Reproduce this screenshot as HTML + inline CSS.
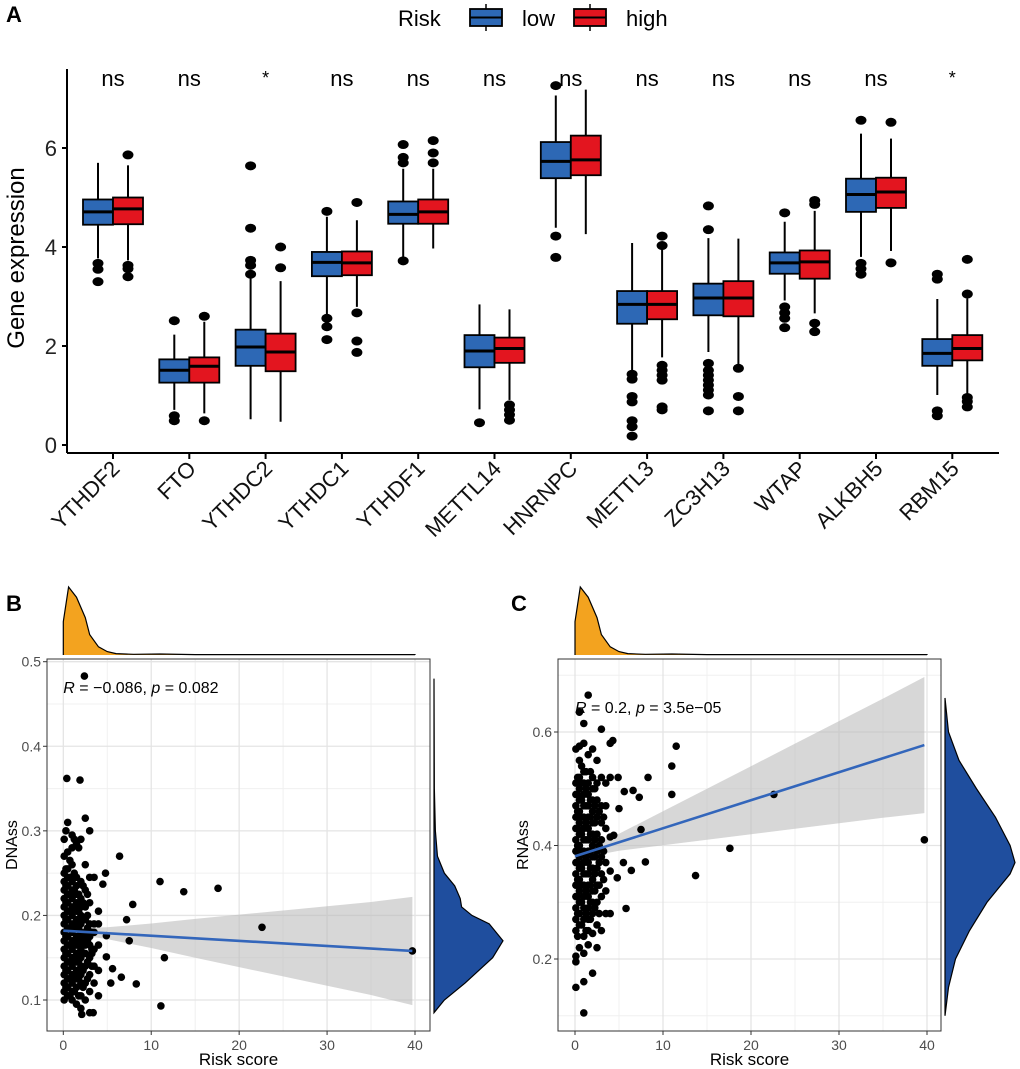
<!DOCTYPE html>
<html><head><meta charset="utf-8"><style>
body{margin:0;background:#fff}
svg{display:block;font-family:"Liberation Sans",sans-serif}
</style></head><body>
<svg id="fig" width="1020" height="1069" viewBox="0 0 1020 1069">
<text x="6" y="22" font-size="22" font-weight="bold">A</text>
<text x="6" y="611" font-size="22" font-weight="bold">B</text>
<text x="511" y="611" font-size="22" font-weight="bold">C</text>
<g id="gA"></g>
<g id="gB"></g>
<g id="gC"></g>
</svg>
<script>
const genes=["YTHDF2","FTO","YTHDC2","YTHDC1","YTHDF1","METTL14","HNRNPC","METTL3","ZC3H13","WTAP","ALKBH5","RBM15"];
const sig=["ns","ns","*","ns","ns","ns","ns","ns","ns","ns","ns","*"];
// [whiskerLow, q1, median, q3, whiskerHigh]
const lowStats=[[3.77,4.45,4.71,4.96,5.70],[0.71,1.26,1.51,1.73,2.23],[0.52,1.60,1.98,2.33,3.40],[2.62,3.41,3.69,3.90,4.61],[3.80,4.47,4.66,4.92,5.58],[0.72,1.57,1.90,2.22,2.84],[4.39,5.39,5.73,6.12,7.06],[1.48,2.45,2.84,3.11,4.08],[1.88,2.62,2.97,3.26,4.18],[2.92,3.46,3.68,3.89,4.51],[3.80,4.71,5.06,5.38,6.29],[1.01,1.60,1.85,2.14,2.95]];
const highStats=[[3.73,4.46,4.77,5.00,5.65],[0.64,1.26,1.59,1.77,2.49],[0.47,1.49,1.88,2.25,3.31],[2.79,3.43,3.68,3.91,4.54],[3.97,4.47,4.71,4.96,5.58],[0.91,1.66,1.95,2.17,2.74],[4.26,5.45,5.76,6.25,7.18],[1.77,2.54,2.84,3.11,4.00],[1.61,2.60,2.97,3.31,4.17],[2.66,3.36,3.70,3.93,4.73],[3.92,4.79,5.11,5.40,6.19],[0.98,1.71,1.95,2.22,2.96]];
const lowOut=[[3.67,3.55,3.30],[2.51,0.59,0.49],[5.64,4.38,3.73,3.63,3.45],[4.72,2.56,2.39,2.13],[6.07,5.81,5.70,3.72],[0.45],[7.26,4.22,3.79],[1.43,1.33,0.98,0.87,0.49,0.37,0.18],[4.83,4.35,1.65,1.51,1.41,1.31,1.21,1.11,1.01,0.69],[4.69,2.79,2.67,2.56,2.37],[6.56,3.67,3.56,3.45],[3.45,3.35,0.69,0.59]];
const highOut=[[5.86,3.63,3.56,3.40],[2.60,0.49],[4.00,3.58],[4.90,2.67,2.10,1.87],[6.15,5.90,5.70],[0.81,0.71,0.61,0.50],[],[4.22,4.03,1.61,1.51,1.41,1.31,0.77,0.71],[1.55,0.98,0.69],[4.94,4.86,2.46,2.29],[6.52,3.68],[3.75,3.05,0.96,0.88,0.77]];
const yTicksA=[0,2,4,6];

const pointsB=[[0.1,.10],[0.1,.11],[0.1,.12],[0.1,.13],[0.1,.14],[0.1,.15],[0.1,.16],[0.1,.17],[0.1,.18],[0.1,.19],[0.1,.20],[0.1,.21],[0.1,.22],[0.1,.23],[0.1,.24],[0.1,.25],[0.1,.27],[0.1,.29],
[0.5,.105],[0.5,.115],[0.5,.125],[0.5,.135],[0.5,.145],[0.5,.155],[0.5,.165],[0.5,.175],[0.5,.185],[0.5,.195],[0.5,.205],[0.5,.215],[0.5,.225],[0.5,.235],[0.5,.245],[0.5,.255],[0.5,.275],[0.5,.31],
[1.0,.10],[1.0,.11],[1.0,.12],[1.0,.13],[1.0,.14],[1.0,.15],[1.0,.16],[1.0,.17],[1.0,.18],[1.0,.19],[1.0,.20],[1.0,.21],[1.0,.22],[1.0,.23],[1.0,.24],[1.0,.26],[1.0,.28],[1.0,.295],
[1.5,.095],[1.5,.115],[1.5,.125],[1.5,.135],[1.5,.145],[1.5,.155],[1.5,.165],[1.5,.175],[1.5,.185],[1.5,.195],[1.5,.205],[1.5,.215],[1.5,.225],[1.5,.235],[1.5,.245],[1.5,.285],
[2.0,.09],[2.0,.105],[2.0,.12],[2.0,.13],[2.0,.14],[2.0,.15],[2.0,.16],[2.0,.17],[2.0,.18],[2.0,.19],[2.0,.20],[2.0,.21],[2.0,.22],[2.0,.24],[2.0,.29],
[2.5,.10],[2.5,.12],[2.5,.14],[2.5,.155],[2.5,.165],[2.5,.18],[2.5,.195],[2.5,.21],[2.5,.23],[2.5,.26],[2.5,.315],
[3.0,.085],[3.0,.11],[3.0,.13],[3.0,.15],[3.0,.165],[3.0,.175],[3.0,.19],[3.0,.215],[3.0,.245],[3.0,.30],
[3.5,.12],[3.5,.14],[3.5,.16],[3.5,.18],[3.5,.19],[3.5,.245],[4.0,.105],[4.0,.135],[4.0,.165],[4.0,.19],[4.0,.205],
[0.3,.115],[0.3,.135],[0.3,.155],[0.3,.175],[0.3,.195],[0.3,.215],[0.3,.235],[0.3,.255],[0.3,.30],
[0.75,.105],[0.75,.125],[0.75,.145],[0.75,.165],[0.75,.185],[0.75,.205],[0.75,.225],[0.75,.245],[0.75,.265],
[1.25,.11],[1.25,.13],[1.25,.15],[1.25,.17],[1.25,.19],[1.25,.21],[1.25,.23],[1.25,.25],[1.25,.29],
[1.75,.105],[1.75,.125],[1.75,.145],[1.75,.165],[1.75,.185],[1.75,.205],[1.75,.225],[1.75,.28],
[2.25,.115],[2.25,.135],[2.25,.155],[2.25,.175],[2.25,.195],[2.25,.215],[2.25,.235],
[2.75,.125],[2.75,.145],[2.75,.17],[2.75,.185],[2.75,.20],[2.75,.225],[3.25,.14],[3.25,.16],[3.25,.18],[3.25,.155],
[2.4,.483],[0.4,.362],[1.9,.36],[6.4,.27],[4.8,.25],[4.5,.237],[11,.24],[13.7,.228],[17.6,.232],[7.9,.213],[7.2,.195],[22.6,.186],[4.9,.176],[7.5,.17],[11.5,.15],[4.9,.151],[5.6,.137],[6.6,.127],[5.4,.12],[8.3,.119],[11.1,.093],[39.7,.158],[3.4,.085],[2.1,.083]];
const fitB=[0.182,0.158];
const ciX=[0,1.5,5,10,15,20,25,30,35,39.7];
const ciHalfB=[.006,.004,.007,.0145,.023,.031,.039,.047,.055,.064];
const densTopX=[0,0.6,1.5,2.5,3,4,5,6,8,11,15,25,40];
const densTopY=[0.49,1.0,0.85,0.55,0.3,0.12,0.05,0.02,0.01,0.015,0.005,0.006,0.005];
const densRightBy=[0.085,0.10,0.12,0.15,0.17,0.19,0.20,0.21,0.22,0.235,0.25,0.27,0.30,0.35,0.48];
const densRightBv=[0,0.15,0.45,0.85,1.0,0.8,0.55,0.4,0.38,0.3,0.15,0.05,0.02,0.005,0];

const pointsC=[[0.1,.15],[0.1,.195],[0.1,.205],[0.1,.25],[0.1,.27],[0.1,.29],[0.1,.31],[0.1,.33],[0.1,.35],[0.1,.37],[0.1,.39],[0.1,.41],[0.1,.43],[0.1,.45],[0.1,.47],[0.1,.49],[0.1,.51],[0.1,.57],
[0.5,.22],[0.5,.26],[0.5,.28],[0.5,.30],[0.5,.32],[0.5,.34],[0.5,.36],[0.5,.38],[0.5,.40],[0.5,.42],[0.5,.44],[0.5,.46],[0.5,.48],[0.5,.50],[0.5,.52],[0.5,.55],[0.5,.575],[0.5,.635],
[1.0,.105],[1.0,.16],[1.0,.21],[1.0,.24],[1.0,.27],[1.0,.29],[1.0,.31],[1.0,.33],[1.0,.35],[1.0,.37],[1.0,.39],[1.0,.41],[1.0,.43],[1.0,.45],[1.0,.47],[1.0,.49],[1.0,.51],[1.0,.53],[1.0,.58],[1.0,.615],
[1.5,.225],[1.5,.25],[1.5,.27],[1.5,.29],[1.5,.31],[1.5,.33],[1.5,.35],[1.5,.37],[1.5,.39],[1.5,.41],[1.5,.43],[1.5,.45],[1.5,.47],[1.5,.49],[1.5,.51],[1.5,.56],[1.5,.665],
[2.0,.175],[2.0,.245],[2.0,.28],[2.0,.30],[2.0,.32],[2.0,.34],[2.0,.36],[2.0,.38],[2.0,.40],[2.0,.42],[2.0,.44],[2.0,.46],[2.0,.48],[2.0,.50],[2.0,.52],[2.0,.57],
[2.5,.22],[2.5,.26],[2.5,.30],[2.5,.33],[2.5,.36],[2.5,.39],[2.5,.42],[2.5,.45],[2.5,.48],[2.5,.51],[2.5,.55],
[3.0,.25],[3.0,.31],[3.0,.35],[3.0,.38],[3.0,.41],[3.0,.44],[3.0,.47],[3.0,.52],[3.0,.605],
[3.5,.28],[3.5,.32],[3.5,.37],[3.5,.43],[3.5,.47],[3.5,.51],[4.0,.28],[4.0,.355],[4.0,.415],[4.0,.52],[4.0,.58],
[0.3,.24],[0.3,.28],[0.3,.31],[0.3,.34],[0.3,.37],[0.3,.40],[0.3,.43],[0.3,.46],[0.3,.49],[0.3,.52],
[0.75,.26],[0.75,.30],[0.75,.33],[0.75,.36],[0.75,.39],[0.75,.42],[0.75,.45],[0.75,.48],[0.75,.51],[0.75,.54],
[1.25,.25],[1.25,.28],[1.25,.32],[1.25,.35],[1.25,.38],[1.25,.41],[1.25,.44],[1.25,.47],[1.25,.50],[1.25,.53],
[1.75,.27],[1.75,.30],[1.75,.33],[1.75,.36],[1.75,.39],[1.75,.42],[1.75,.45],[1.75,.48],[1.75,.53],
[2.25,.29],[2.25,.32],[2.25,.35],[2.25,.38],[2.25,.41],[2.25,.44],[2.25,.47],[2.25,.50],
[2.75,.28],[2.75,.33],[2.75,.37],[2.75,.40],[2.75,.46],[3.25,.34],[3.25,.39],[3.25,.45],
[4.3,.585],[4.9,.52],[5,.465],[5.6,.495],[6.6,.497],[7.3,.485],[8.3,.52],[11,.54],[11.5,.575],[11,.49],[7.5,.428],[22.6,.49],[39.7,.41],[17.6,.395],[13.7,.347],[8,.371],[5.5,.37],[6.4,.356],[4.8,.343],[5.8,.289],[4.4,.418]];
const fitC=[0.381,0.577];
const ciHalfC=[.012,.008,.015,.03,.045,.06,.075,.09,.105,.12];
const densRightCy=[0.1,0.15,0.2,0.25,0.3,0.35,0.37,0.4,0.45,0.5,0.55,0.6,0.66];
const densRightCv=[0,0.05,0.15,0.35,0.6,0.93,1.0,0.93,0.72,0.45,0.2,0.05,0];

const NS="http://www.w3.org/2000/svg";
function mk(parent,tag,attrs,text){const e=document.createElementNS(NS,tag);for(const k in attrs)e.setAttribute(k,attrs[k]);if(text!==undefined)e.textContent=text;parent.appendChild(e);return e;}

// ---------- Panel A ----------
const gA=document.getElementById('gA');
const yA=v=>445-49.5*v;
const xA=i=>113+i*76.3;
const ax=mk(gA,'line',{x1:67,y1:69,x2:67,y2:453,stroke:'#000','stroke-width':2});


const bx=mk(gA,'line',{x1:67,y1:453,x2:999,y2:453,stroke:'#000','stroke-width':2});


yTicksA.forEach(t=>{
  mk(gA,'line',{x1:62,y1:yA(t),x2:67,y2:yA(t),stroke:'#000','stroke-width':2});
  const tl=mk(gA,'text',{x:57,y:yA(t)+8,'font-size':22,'text-anchor':'end',fill:'#222'},String(t));
  
  
});
const yt=mk(gA,'text',{x:0,y:0,'font-size':24,'text-anchor':'middle',transform:'translate(24,258) rotate(-90)'},'Gene expression');


function drawBox(cx,s,outs,fill,name){
  const g=mk(gA,'g',{});
  
  
  mk(g,'line',{x1:cx,y1:yA(s[0]),x2:cx,y2:yA(s[4]),stroke:'#000','stroke-width':2});
  mk(g,'rect',{x:cx-15,y:yA(s[3]),width:30,height:yA(s[1])-yA(s[3]),fill:fill,stroke:'#000','stroke-width':1.8});
  mk(g,'line',{x1:cx-15,y1:yA(s[2]),x2:cx+15,y2:yA(s[2]),stroke:'#000','stroke-width':3});
  outs.forEach(o=>mk(g,'ellipse',{cx:cx,cy:yA(o),rx:5.5,ry:4.5,fill:'#000'}));
}
genes.forEach((gname,i)=>{
  const c=xA(i);
  drawBox(c-15,lowStats[i],lowOut[i],'#2d68b5','box-low-'+gname.toLowerCase());
  drawBox(c+15,highStats[i],highOut[i],'#e3151f','box-high-'+gname.toLowerCase());
  mk(gA,'line',{x1:c,y1:453,x2:c,y2:459,stroke:'#000','stroke-width':2});
  const lab=mk(gA,'text',{x:0,y:0,'font-size':22,'text-anchor':'end',transform:`translate(${c+8},${470}) rotate(-45)`,fill:'#111'},gname);
  
  
  const st=mk(gA,'text',{x:c,y:sig[i]==='*'?84:86,'font-size':sig[i]==='*'?18:22,'text-anchor':'middle'},sig[i]);
  
  
});
// legend
const lg=mk(gA,'g',{});


mk(lg,'text',{x:398,y:26,'font-size':22},'Risk');
[[470,'#2d68b5','low',522],[574,'#e3151f','high',626]].forEach(d=>{
  const e=mk(lg,'g',{});
  
  
  mk(e,'line',{x1:d[0]+16,y1:4,x2:d[0]+16,y2:31,stroke:'#000','stroke-width':1.5});
  mk(e,'rect',{x:d[0],y:9,width:32,height:17,fill:d[1],stroke:'#000','stroke-width':1.8});
  mk(e,'line',{x1:d[0],y1:17.5,x2:d[0]+32,y2:17.5,stroke:'#000','stroke-width':2});
  mk(e,'text',{x:d[3],y:26,'font-size':22},d[2]);
});

// ---------- Scatter panels ----------
function scatter(cfg){
  const g=document.getElementById(cfg.id);
  const X=v=>cfg.x0+(cfg.x40-cfg.x0)*v/40;
  const Y=v=>cfg.ya+(v-cfg.va)*(cfg.yb-cfg.ya)/(cfg.vb-cfg.va);
  mk(g,'rect',{x:cfg.L,y:cfg.T,width:cfg.R-cfg.L,height:cfg.B-cfg.T,fill:'#fff'});
  [5,15,25,35].forEach(v=>mk(g,'line',{x1:X(v),y1:cfg.T,x2:X(v),y2:cfg.B,stroke:'#f0f0f0','stroke-width':1}));
  cfg.yMinor.forEach(v=>mk(g,'line',{x1:cfg.L,y1:Y(v),x2:cfg.R,y2:Y(v),stroke:'#f0f0f0','stroke-width':1}));
  [0,10,20,30,40].forEach(v=>mk(g,'line',{x1:X(v),y1:cfg.T,x2:X(v),y2:cfg.B,stroke:'#e4e4e4','stroke-width':1.3}));
  cfg.yTicks.forEach(v=>mk(g,'line',{x1:cfg.L,y1:Y(v),x2:cfg.R,y2:Y(v),stroke:'#e4e4e4','stroke-width':1.3}));
  const fy=x=>cfg.fit[0]+(cfg.fit[1]-cfg.fit[0])*x/39.7;
  let up=ciX.map((x,i)=>X(x)+','+Y(fy(x)+cfg.ci[i]));
  let lo=ciX.map((x,i)=>X(x)+','+Y(fy(x)-cfg.ci[i])).reverse();
  const band=mk(g,'polygon',{points:up.concat(lo).join(' '),fill:'#bdbdbd','fill-opacity':0.6});
  
  
  cfg.pts.forEach(p=>{
    const c=mk(g,'circle',{cx:X(p[0]),cy:Y(p[1]),r:3.8,fill:'#000'});
    
    
  });
  const fl=mk(g,'line',{x1:X(0),y1:Y(cfg.fit[0]),x2:X(39.7),y2:Y(cfg.fit[1]),stroke:'#3366bb','stroke-width':2.6});
  
  
  mk(g,'rect',{x:cfg.L,y:cfg.T,width:cfg.R-cfg.L,height:cfg.B-cfg.T,fill:'none',stroke:'#333','stroke-width':1});
  [0,10,20,30,40].forEach(v=>{
    mk(g,'line',{x1:X(v),y1:cfg.B,x2:X(v),y2:cfg.B+4,stroke:'#333'});
    const t=mk(g,'text',{x:X(v),y:cfg.B+19,'font-size':14,'text-anchor':'middle',fill:'#4d4d4d'},String(v));
    
    
  });
  cfg.yTicks.forEach(v=>{
    mk(g,'line',{x1:cfg.L-4,y1:Y(v),x2:cfg.L,y2:Y(v),stroke:'#333'});
    const t=mk(g,'text',{x:cfg.L-6,y:Y(v)+5,'font-size':14,'text-anchor':'end',fill:'#4d4d4d'},v.toFixed(1));
    
    
  });
  const xt=mk(g,'text',{x:(cfg.L+cfg.R)/2,y:cfg.B+34,'font-size':17,'text-anchor':'middle'},'Risk score');
  
  
  const ytt=mk(g,'text',{x:0,y:0,'font-size':16,'text-anchor':'middle',transform:`translate(${cfg.L-30},${(cfg.T+cfg.B)/2}) rotate(-90)`},cfg.ylab);
  
  
  const an=mk(g,'text',{x:X(0),y:cfg.annY,'font-size':16},'');
  an.innerHTML=cfg.ann;
  
  
  let d='M'+X(0)+','+655;
  densTopX.forEach((x,i)=>d+=' L'+X(x)+','+(655-68*densTopY[i]));
  d+=' L'+X(40)+',655';
  const td=mk(g,'path',{d:d,fill:'#f3a31f',stroke:'#000','stroke-width':1.2});
  
  
  let r='M'+cfg.dx+','+Y(cfg.dy[0]);
  cfg.dy.forEach((y,i)=>r+=' L'+(cfg.dx+cfg.dw*cfg.dv[i])+','+Y(y));
  r+=' L'+cfg.dx+','+Y(cfg.dy[cfg.dy.length-1])+' Z';
  const rd=mk(g,'path',{d:r,fill:'#1f4e9e',stroke:'#000','stroke-width':1.2});
  
  
}
scatter({id:'gB',L:47,T:659,R:430,B:1031,x0:63.3,x40:415,va:0.5,ya:661.7,vb:0.1,yb:1000,yTicks:[0.1,0.2,0.3,0.4,0.5],yMinor:[0.15,0.25,0.35,0.45],pts:pointsB,fit:fitB,ci:ciHalfB,ylab:'DNAss',annY:693,ann:'<tspan font-style="italic">R</tspan> = −0.086, <tspan font-style="italic">p</tspan> = 0.082',dx:434,dw:69,dy:densRightBy,dv:densRightBv});
scatter({id:'gC',L:558,T:659,R:941,B:1031,x0:575,x40:927,va:0.6,ya:732,vb:0.2,yb:959,yTicks:[0.2,0.4,0.6],yMinor:[0.1,0.3,0.5,0.7],pts:pointsC,fit:fitC,ci:ciHalfC,ylab:'RNAss',annY:713,ann:'<tspan font-style="italic">R</tspan> = 0.2, <tspan font-style="italic">p</tspan> = 3.5e−05',dx:945,dw:70,dy:densRightCy,dv:densRightCv});
</script>
</body></html>
